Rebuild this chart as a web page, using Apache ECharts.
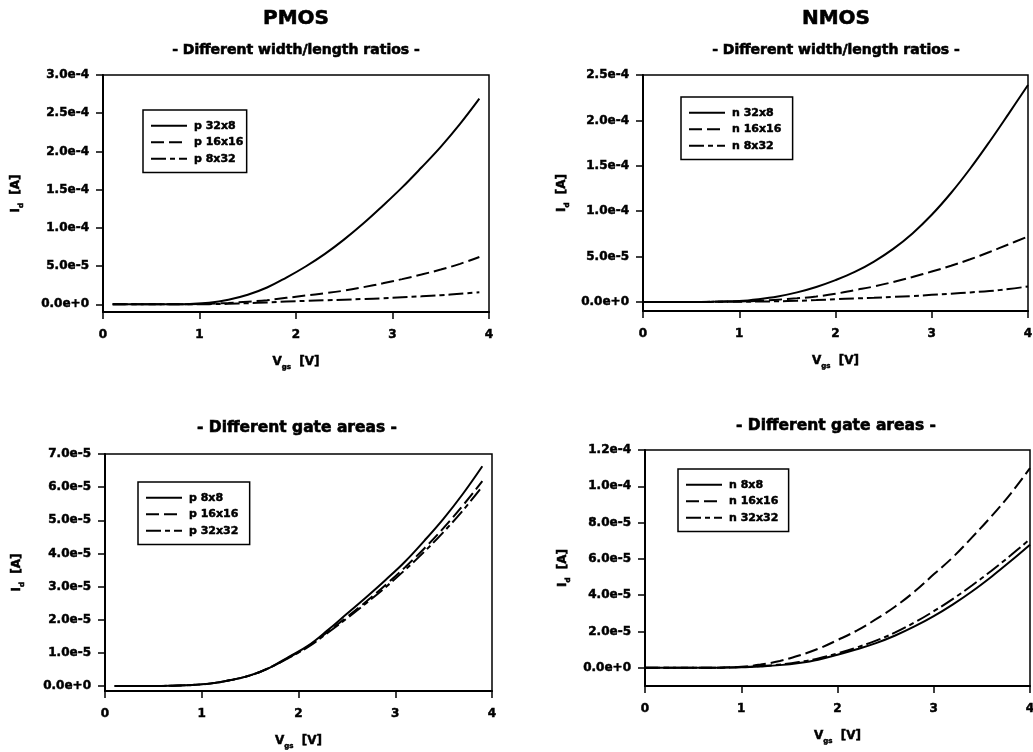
<!DOCTYPE html>
<html>
<head>
<meta charset="utf-8">
<script src="https://cdn.jsdelivr.net/npm/echarts@6/dist/echarts.min.js"></script>
<style>
  html, body { margin: 0; padding: 0; background: #fff; }
  #chart { width: 1033px; height: 752px; }
</style>
</head>
<body>
<div id="chart"></div>
<script>
// Gate-source voltage sweeps [V]
const pmosVgs = [0.1, 0.3, 0.5, 0.7, 0.9, 1.1, 1.3, 1.5, 1.7, 1.9, 2.1, 2.3, 2.5, 2.7, 2.9, 3.1, 3.3, 3.5, 3.7, 3.9];
const nmosVgs = [0, 0.2, 0.4, 0.6, 0.8, 1.0, 1.2, 1.4, 1.6, 1.8, 2.0, 2.2, 2.4, 2.6, 2.8, 3.0, 3.2, 3.4, 3.6, 3.8, 4.0];

// Drain currents, in units of 1e-5 A
// PMOS, different W/L ratios
const p32x8   = [0, 0, 0, 0.01, 0.05, 0.2, 0.6, 1.25, 2.2, 3.5, 4.95, 6.6, 8.5, 10.6, 12.9, 15.3, 17.9, 20.6, 23.6, 26.9];
const p16x16  = [0, 0, 0, 0, 0.02, 0.08, 0.18, 0.35, 0.55, 0.85, 1.15, 1.45, 1.8, 2.25, 2.75, 3.3, 3.9, 4.55, 5.3, 6.2];
const p8x32   = [0, 0, 0, 0, 0.01, 0.03, 0.07, 0.15, 0.25, 0.36, 0.45, 0.53, 0.61, 0.7, 0.8, 0.92, 1.05, 1.2, 1.38, 1.58];
// NMOS, different W/L ratios
const n32x8   = [0, 0, 0, 0, 0.05, 0.1, 0.3, 0.6, 1.05, 1.65, 2.4, 3.3, 4.45, 5.85, 7.55, 9.6, 12.0, 14.7, 17.65, 20.75, 23.9];
const n16x16  = [0, 0, 0, 0, 0.02, 0.05, 0.12, 0.25, 0.4, 0.6, 0.9, 1.3, 1.7, 2.2, 2.75, 3.35, 3.98, 4.7, 5.5, 6.35, 7.2];
const n8x32   = [0, 0, 0, 0, 0.01, 0.02, 0.04, 0.07, 0.12, 0.2, 0.3, 0.38, 0.46, 0.55, 0.65, 0.78, 0.9, 1.05, 1.2, 1.42, 1.7];
// PMOS, different gate areas
const p8x8    = [0, 0, 0, 0.01, 0.03, 0.08, 0.18, 0.32, 0.55, 0.88, 1.22, 1.68, 2.18, 2.68, 3.2, 3.75, 4.38, 5.05, 5.8, 6.63];
const p16x16A = [0, 0, 0, 0.01, 0.03, 0.08, 0.18, 0.32, 0.55, 0.86, 1.2, 1.63, 2.08, 2.55, 3.05, 3.58, 4.15, 4.77, 5.45, 6.18];
const p32x32  = [0, 0, 0, 0.01, 0.03, 0.08, 0.18, 0.32, 0.55, 0.85, 1.18, 1.6, 2.04, 2.5, 2.98, 3.5, 4.05, 4.65, 5.3, 6.02];
// NMOS, different gate areas
const n8x8    = [0, 0, 0, 0, 0.01, 0.03, 0.08, 0.15, 0.27, 0.45, 0.72, 1.02, 1.36, 1.78, 2.28, 2.85, 3.5, 4.22, 5.02, 5.88, 6.78];
const n16x16A = [0, 0, 0, 0, 0.02, 0.06, 0.18, 0.38, 0.68, 1.05, 1.53, 2.05, 2.68, 3.38, 4.2, 5.15, 6.1, 7.2, 8.35, 9.6, 11.0];
const n32x32  = [0, 0, 0, 0, 0.01, 0.04, 0.1, 0.18, 0.32, 0.52, 0.8, 1.12, 1.5, 1.95, 2.5, 3.12, 3.8, 4.55, 5.35, 6.2, 7.09];

// Y tick values [A] and x tick values [V]
const ticksTL = [0, 5e-5, 1e-4, 1.5e-4, 2e-4, 2.5e-4, 3e-4];
const ticksTR = [0, 5e-5, 1e-4, 1.5e-4, 2e-4, 2.5e-4];
const ticksBL = [0, 1e-5, 2e-5, 3e-5, 4e-5, 5e-5, 6e-5, 7e-5];
const ticksBR = [0, 2e-5, 4e-5, 6e-5, 8e-5, 1e-4, 1.2e-4];
const xTicks = [0, 1, 2, 3, 4];

const FONT = 'DejaVu Sans';
const BLACK = '#000';
const SOLID = 'solid';
const DASH = [13, 5];
const DASHDOT = [15, 4, 5, 4];
// thin outline of the glyphs for a heavier print-like weight
const HEAVY = { textBorderColor: BLACK, textBorderWidth: 0.5 };

function points(xs, ys) {
  return xs.map((x, i) => [x, ys[i] * 1e-5]);
}

function curve(name, idx, xs, ys, dash) {
  return {
    type: 'line', name: name, xAxisIndex: idx, yAxisIndex: idx,
    data: points(xs, ys), symbol: 'none', smooth: 0.4,
    lineStyle: { color: BLACK, width: 2, type: dash },
    itemStyle: { color: BLACK },
    emphasis: { disabled: true }
  };
}

const grids = [
  { left: 103, top: 75, width: 386, height: 237 },
  { left: 643, top: 75, width: 385, height: 236 },
  { left: 105, top: 454, width: 387, height: 237 },
  { left: 645, top: 450, width: 385, height: 236 }
].map(g => Object.assign(g, { show: true, borderColor: BLACK, borderWidth: 1.5, backgroundColor: 'transparent', outerBoundsMode: 'none' }));

const nameRich = {
  m: Object.assign({ fontFamily: FONT, fontWeight: 'bold', fontSize: 12, color: BLACK, lineHeight: 18 }, HEAVY),
  s: Object.assign({ fontFamily: FONT, fontWeight: 'bold', fontSize: 7, color: BLACK, lineHeight: 9, verticalAlign: 'bottom' }, HEAVY)
};

function xAxis(idx) {
  return {
    type: 'value', gridIndex: idx, min: 0, max: 4, interval: 1,
    name: '{m|V}{s|gs}{m|  [V]}', nameLocation: 'middle', nameGap: 41, nameMoveOverlap: false,
    nameTextStyle: { rich: nameRich },
    axisLine: { show: true, onZero: false, lineStyle: { color: BLACK, width: 2 } },
    axisTick: { show: true, inside: false, length: 7, lineStyle: { color: BLACK, width: 1.5 } },
    axisLabel: Object.assign({ show: true, margin: 17, fontFamily: FONT, fontWeight: 'bold', fontSize: 12, color: BLACK,
                 customValues: xTicks }, HEAVY),
    splitLine: { show: false }
  };
}

function yAxis(idx, min, max, ticks, gap) {
  return {
    type: 'value', gridIndex: idx, min: min, max: max,
    name: '{m|I}{s|d}{m|  [A]}', nameLocation: 'middle', nameRotate: 90, nameGap: gap, nameMoveOverlap: false,
    nameTextStyle: { rich: nameRich },
    axisLine: { show: true, onZero: false, lineStyle: { color: BLACK, width: 2 } },
    axisTick: { show: true, inside: false, length: 7, lineStyle: { color: BLACK, width: 1.5 }, customValues: ticks },
    axisLabel: Object.assign({ show: true, margin: 14, fontFamily: FONT, fontWeight: 'bold', fontSize: 12, color: BLACK,
                 customValues: ticks, formatter: v => Number(v).toExponential(1) }, HEAVY),
    splitLine: { show: false }
  };
}

function legend(left, top, names, padRight) {
  return {
    show: true, orient: 'vertical', left: left, top: top,
    data: names, selectedMode: false,
    itemWidth: 36, itemHeight: 14, itemGap: 5,
    padding: [10, padRight, 8, 7],
    borderColor: BLACK, borderWidth: 1.5, borderRadius: 0, backgroundColor: '#fff',
    itemStyle: { color: 'rgba(0,0,0,0)', borderWidth: 0, opacity: 0 },
    textStyle: Object.assign({ fontFamily: FONT, fontWeight: 'bold', fontSize: 11, color: BLACK, padding: [0, 0, 0, 2] }, HEAVY)
  };
}

function label(text, x, y, size) {
  return {
    type: 'text', x: x, y: y, silent: true,
    style: { text: text, fontFamily: FONT, fontWeight: 'bold', fontSize: size, fill: BLACK,
             align: 'center', verticalAlign: 'middle', stroke: BLACK, lineWidth: 0.6 }
  };
}

const option = {
  animation: false,
  backgroundColor: '#fff',
  grid: grids,
  xAxis: [xAxis(0), xAxis(1), xAxis(2), xAxis(3)],
  yAxis: [
    yAxis(0, -1e-5, 3e-4, ticksTL, 78),
    yAxis(1, -1e-5, 2.5e-4, ticksTR, 72),
    yAxis(2, -1.5e-6, 7e-5, ticksBL, 79),
    yAxis(3, -1e-5, 1.2e-4, ticksBR, 73)
  ],
  legend: [
    legend(143, 110, ['p 32x8', 'p 16x16', 'p 8x32'], 3),
    legend(681, 97, ['n 32x8', 'n 16x16', 'n 8x32'], 11),
    legend(138, 482, ['p 8x8', 'p 16x16', 'p 32x32'], 11),
    legend(678, 469, ['n 8x8', 'n 16x16', 'n 32x32'], 10)
  ],
  graphic: [
    label('PMOS', 296, 19, 20),
    label('NMOS', 836, 19, 20),
    label('- Different width/length ratios -', 296, 50, 14),
    label('- Different width/length ratios -', 836, 50, 14),
    label('- Different gate areas -', 297, 428, 15.5),
    label('- Different gate areas -', 836, 426, 15.5)
  ],
  series: [
    curve('p 32x8', 0, pmosVgs, p32x8, SOLID),
    curve('p 16x16', 0, pmosVgs, p16x16, DASH),
    curve('p 8x32', 0, pmosVgs, p8x32, DASHDOT),
    curve('n 32x8', 1, nmosVgs, n32x8, SOLID),
    curve('n 16x16', 1, nmosVgs, n16x16, DASH),
    curve('n 8x32', 1, nmosVgs, n8x32, DASHDOT),
    curve('p 8x8', 2, pmosVgs, p8x8, SOLID),
    curve('p 16x16', 2, pmosVgs, p16x16A, DASH),
    curve('p 32x32', 2, pmosVgs, p32x32, DASHDOT),
    curve('n 8x8', 3, nmosVgs, n8x8, SOLID),
    curve('n 16x16', 3, nmosVgs, n16x16A, DASH),
    curve('n 32x32', 3, nmosVgs, n32x32, DASHDOT)
  ]
};

const chart = echarts.init(document.getElementById('chart'), null, { renderer: 'canvas' });
chart.setOption(option);
</script>
</body>
</html>
